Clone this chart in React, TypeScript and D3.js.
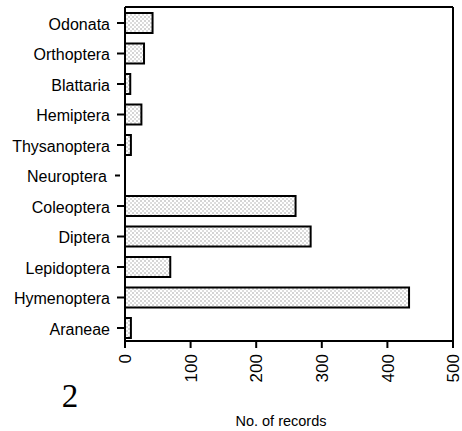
import React from "react";
import * as d3 from "d3";

const categories = ["Odonata", "Orthoptera", "Blattaria", "Hemiptera", "Thysanoptera", "Neuroptera", "Coleoptera", "Diptera", "Lepidoptera", "Hymenoptera", "Araneae"];
const records = [42, 29, 8, 25, 9, 0, 260, 283, 69, 433, 9];
const xTicks = [0, 100, 200, 300, 400, 500];

const W = 462, H = 431;
const left = 125, right = 453, top = 7, bottom = 341;

export default function App() {
  const x = d3.scaleLinear().domain([0, 500]).range([left, right]);
  const y = d3.scalePoint<string>().domain(categories).range([23, 328]);
  const barH = 20;
  const font = "Arial, 'Liberation Sans', Helvetica, sans-serif";
  return (
    <svg width={W} height={H} style={{ position: "absolute", left: 0, top: 0, background: "#fff" }}>
      <defs>
        <pattern id="dots" width="4" height="4" patternUnits="userSpaceOnUse">
          <rect width="4" height="4" fill="#fff" />
          <rect x="0.5" y="0.5" width="1" height="1" fill="#555" />
          <rect x="2.5" y="2.5" width="1" height="1" fill="#777" />
        </pattern>
      </defs>
      {/* frame */}
      <line x1={left} x2={right} y1={top} y2={top} stroke="#000" strokeWidth={2} />
      <line x1={right} x2={right} y1={top} y2={bottom} stroke="#000" strokeWidth={2} />
      <line x1={left} x2={left} y1={top} y2={bottom} stroke="#000" strokeWidth={2} />
      <line x1={left} x2={right} y1={bottom} y2={bottom} stroke="#000" strokeWidth={2} />
      {/* bars */}
      {categories.map((c, i) =>
        records[i] > 0 ? (
          <rect key={c} x={x(0)} y={(y(c) as number) - barH / 2} width={x(records[i]) - x(0)} height={barH}
            fill="url(#dots)" stroke="#000" strokeWidth={2} />
        ) : null
      )}
      {/* y ticks and labels */}
      {categories.map((c, i) => {
        const cy = y(c) as number;
        const neur = records[i] === 0;
        return (
          <g key={"t" + c}>
            <line x1={neur ? 115 : 117} x2={neur ? 120 : left} y1={cy} y2={cy} stroke="#000" strokeWidth={2} />
            <text x={neur ? 107 : 110} y={cy + 1} dy="0.35em" textAnchor="end" fontFamily={font} fontSize={16} fill="#000">{c}</text>
          </g>
        );
      })}
      {/* x ticks */}
      {xTicks.map((t) => (
        <g key={"x" + t}>
          <line x1={x(t)} x2={x(t)} y1={bottom} y2={bottom + 7} stroke="#000" strokeWidth={2} />
          <text transform={`translate(${x(t)},${bottom + 13}) rotate(-90)`} dy="0.36em" textAnchor="end"
            fontFamily={font} fontSize={17} fill="#000">{t}</text>
        </g>
      ))}
      <text x={281} y={426} textAnchor="middle" fontFamily={font} fontSize={14.5} fill="#000">No. of records</text>
      <text x={70} y={407} textAnchor="middle" fontFamily="'Liberation Serif', 'DejaVu Serif', serif" fontSize={33} fill="#000">2</text>
    </svg>
  );
}
